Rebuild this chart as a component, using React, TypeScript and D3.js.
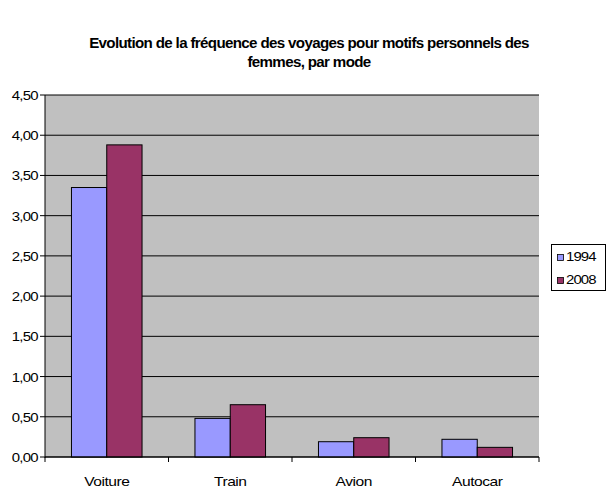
import React from "react";
import * as d3 from "d3";

const categories = ["Voiture", "Train", "Avion", "Autocar"];
const seriesNames = ["1994", "2008"];
const values1994 = [3.35, 0.48, 0.19, 0.22];
const values2008 = [3.88, 0.65, 0.24, 0.12];
const yTicks = [0, 0.5, 1, 1.5, 2, 2.5, 3, 3.5, 4, 4.5];
const colors = ["#9999FF", "#993366"];

const W = 607;
const H = 491;
const left = 45;
const right = 539;
const top = 95;
const bottom = 457;
const font = "'Liberation Sans', Arial, sans-serif";

type STextProps = {
  x: number;
  y: number;
  sx?: number;
  size?: number;
  anchor?: "start" | "middle" | "end";
  bold?: boolean;
  spacing?: number;
  children: React.ReactNode;
};

// Text drawn with a slight horizontal stretch, as the chart's fonts are wide and tightly set
function SText({ x, y, sx = 1.15, size = 13, anchor = "start", bold = false, spacing = -0.4, children }: STextProps) {
  return (
    <text
      transform={`translate(${x},${y}) scale(${sx},1)`}
      textAnchor={anchor}
      fontFamily={font}
      fontSize={size}
      fontWeight={bold ? "bold" : "normal"}
      letterSpacing={spacing}
      fill="#000"
    >
      {children}
    </text>
  );
}

export default function App() {
  const x = d3.scaleBand<string>().domain(categories).range([left, right]).paddingInner(0).paddingOuter(0);
  const y = d3.scaleLinear().domain([0, 4.5]).range([bottom, top]);
  const bw = x.bandwidth() / 3.5;
  const fmt = (v: number) => v.toFixed(2).replace(".", ",");
  const series = [values1994, values2008];

  return (
    <svg width={W} height={H} style={{ position: "absolute", left: 0, top: 0, background: "#fff" }}>
      <rect x={0} y={0} width={W} height={H} fill="#fff" />
      <SText x={309} y={48} anchor="middle" size={14} bold sx={1.08} spacing={-0.6}>
        Evolution de la fréquence des voyages pour motifs personnels des
      </SText>
      <SText x={309} y={67} anchor="middle" size={14} bold sx={1.08} spacing={-0.6}>
        femmes, par mode
      </SText>
      <rect x={left} y={top} width={right - left} height={bottom - top} fill="#C0C0C0" />
      {yTicks.map((t) => (
        <g key={t}>
          <line x1={left - 5} x2={right} y1={y(t)} y2={y(t)} stroke="#000" strokeWidth={1} />
          <SText x={left - 7} y={y(t) + 5} anchor="end" size={13} sx={1.15} spacing={-0.6}>
            {fmt(t)}
          </SText>
        </g>
      ))}
      <line x1={left} x2={left} y1={top} y2={bottom + 1} stroke="#000" />
      {categories.map((c, i) => {
        const x0 = (x(c) as number) + (x.bandwidth() - 2 * bw) / 2;
        return (
          <g key={c}>
            {series.map((s, j) => (
              <rect
                key={j}
                x={x0 + j * bw}
                y={y(s[i])}
                width={bw}
                height={bottom - y(s[i])}
                fill={colors[j]}
                stroke="#000"
                strokeWidth={1}
              />
            ))}
            <SText x={(x(c) as number) + x.bandwidth() / 2} y={486} anchor="middle" size={13} sx={1.2} spacing={-0.4}>
              {c}
            </SText>
          </g>
        );
      })}
      {[...categories.map((c) => x(c) as number), right].map((t, i) => (
        <line key={i} x1={t} x2={t} y1={bottom} y2={bottom + 5} stroke="#000" />
      ))}
      <line x1={left} x2={right} y1={bottom} y2={bottom} stroke="#000" />
      <rect x={551.5} y={244.5} width={54} height={46} fill="#fff" stroke="#000" />
      {seriesNames.map((n, i) => (
        <g key={n}>
          <rect x={557.5} y={254.5 + i * 23} width={6} height={6} fill={colors[i]} stroke="#000" strokeWidth={0.8} />
          <SText x={566} y={261 + i * 23} size={13} sx={1.15} spacing={-0.8}>
            {n}
          </SText>
        </g>
      ))}
    </svg>
  );
}
